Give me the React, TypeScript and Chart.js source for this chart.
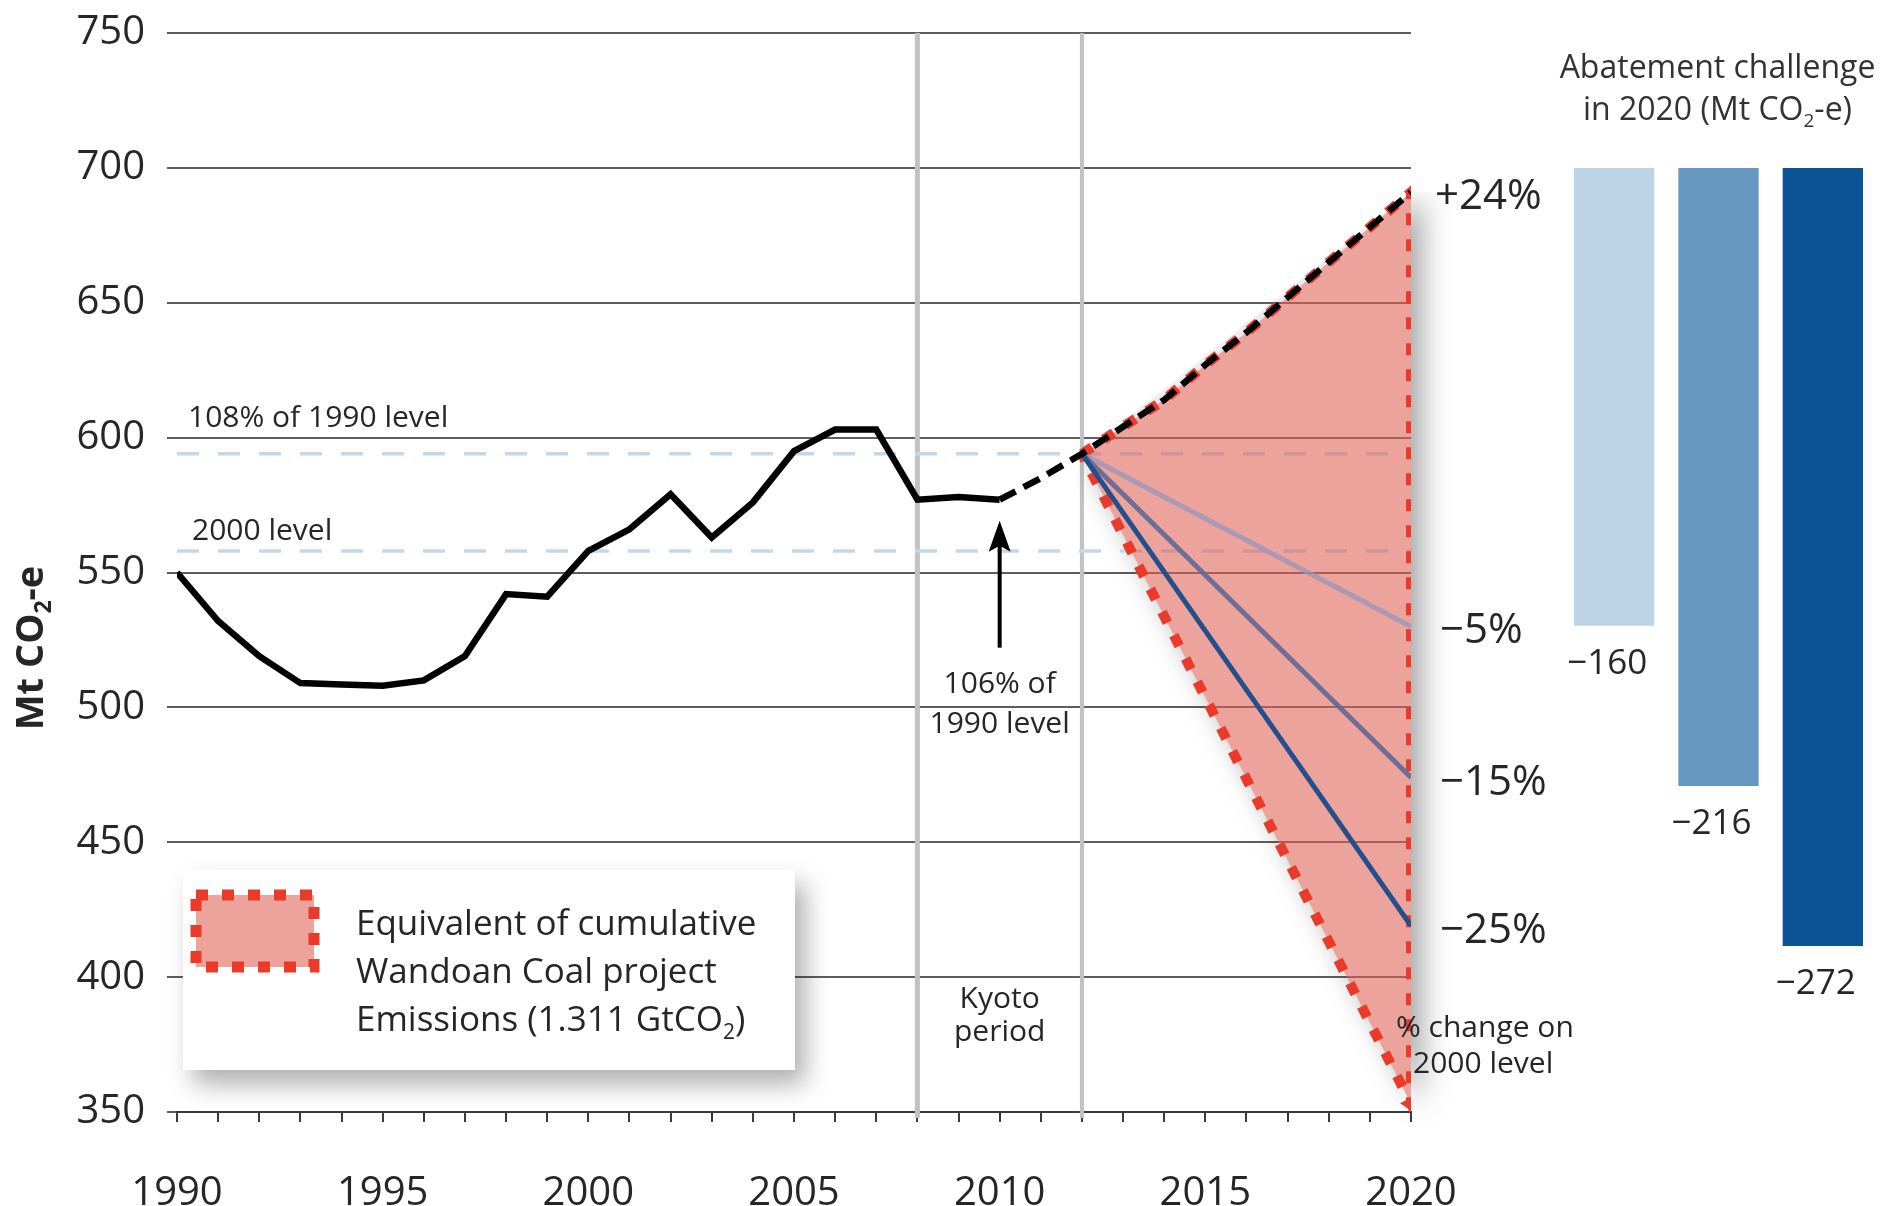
import React, { useEffect, useRef } from 'react';
import { Chart, registerables } from 'chart.js';

Chart.register(...registerables);

const FONT = '"Open Sans", "Noto Sans", "DejaVu Sans", sans-serif';
const TEXT = '#262626';

// ---------------- Data ----------------
const histYears = [1990, 1991, 1992, 1993, 1994, 1995, 1996, 1997, 1998, 1999, 2000, 2001, 2002, 2003, 2004, 2005, 2006, 2007, 2008, 2009, 2010];
const histValues = [550, 532, 519, 509, 508.5, 508, 510, 519, 542, 541, 558, 566, 579, 563, 576, 595, 603, 603, 577, 578, 577];
const projYears = [2011, 2012, 2013, 2014, 2015, 2016, 2017, 2018, 2019, 2020];
const projValues = [585, 594, 604, 614, 627, 639, 652, 665, 678, 691];
const lowerBoundYears = [2012, 2020];
const lowerBoundValues = [594, 353];
const targetYears = [2012, 2020];
const targetEndValues = [530, 474, 419];
const targetLabels = ['\u22125%', '\u221215%', '\u221225%'];
const bauLabel = '+24%';
const level108of1990 = 594;
const level2000 = 558;
const kyotoYears = [2008, 2012];
const xLabelYears = [1990, 1995, 2000, 2005, 2010, 2015, 2020];

const abatementCategories = ['\u22125%', '\u221215%', '\u221225%'];
const abatementValues = [-160, -216, -272];
const abatementColors = ['#bdd4e8', '#6698c2', '#0a5496'];

// --------------------------------------
type Part = { t: string; sub?: boolean };
function drawRich(ctx: CanvasRenderingContext2D, parts: Part[], x: number, y: number, size: number, weight = '400', align: 'left' | 'center' = 'left') {
  const fontFor = (p: Part) => `${weight} ${p.sub ? Math.round(size * 0.6) : size}px ${FONT}`;
  let total = 0;
  const widths = parts.map((p) => {
    ctx.font = fontFor(p);
    const w = ctx.measureText(p.t).width;
    total += w;
    return w;
  });
  let cx = align === 'center' ? x - total / 2 : x;
  ctx.textAlign = 'left';
  ctx.textBaseline = 'alphabetic';
  parts.forEach((p, i) => {
    ctx.font = fontFor(p);
    ctx.fillText(p.t, cx, p.sub ? y + size * 0.22 : y);
    cx += widths[i];
  });
}

const histPoints = histYears.map((x, i) => ({ x, y: histValues[i] }));
const projPoints = projYears.map((x, i) => ({ x, y: projValues[i] }));
const emissionsData = [...histPoints, ...projPoints];
const polyData = [
  ...projPoints.filter((p) => p.x >= lowerBoundYears[0]),
  ...lowerBoundYears.map((x, i) => ({ x, y: lowerBoundValues[i] })).reverse(),
];
const tipIndex = polyData.length - 2;
const startValue = projValues[projYears.indexOf(targetYears[0])];
const targetColors = ['rgba(150,148,188,0.75)', 'rgba(98,106,150,0.92)', '#23508c'];
const POLY_INDEX = 4;

export default function App() {
  const mainRef = useRef<HTMLCanvasElement>(null);
  const barRef = useRef<HTMLCanvasElement>(null);

  useEffect(() => {
    const decor = {
      id: 'decor',
      beforeDatasetsDraw(chart: any) {
        const { ctx, chartArea, scales } = chart;
        const x = scales.x;
        const y = scales.y;
        ctx.save();
        ctx.strokeStyle = '#c2c2c2';
        kyotoYears.forEach((yr, i) => {
          const px = x.getPixelForValue(yr);
          ctx.lineWidth = i === 0 ? 5 : 4;
          ctx.beginPath();
          ctx.moveTo(px, chartArea.top);
          ctx.lineTo(px, chartArea.bottom + 6);
          ctx.stroke();
        });
        ctx.restore();

        // shadow of the polygon
        const meta = chart.getDatasetMeta(POLY_INDEX);
        const pts = meta.data.map((p: any) => ({ x: p.x, y: p.y }));
        if (pts.length) {
          ctx.save();
          ctx.beginPath();
          ctx.rect(0, 0, chart.width, chart.height);
          pts.forEach((p: any, i: number) => (i ? ctx.lineTo(p.x, p.y) : ctx.moveTo(p.x, p.y)));
          ctx.closePath();
          ctx.clip('evenodd');
          const x0 = x.getPixelForValue(lowerBoundYears[0]);
          const x1 = x.getPixelForValue(lowerBoundYears[1]);
          const yTop = y.getPixelForValue(projValues[projValues.length - 1]);
          ctx.beginPath();
          ctx.moveTo(x0, y.getPixelForValue(startValue));
          ctx.lineTo(x1, yTop);
          ctx.lineTo(x1 + 300, yTop);
          ctx.lineTo(x1 + 300, chart.height);
          ctx.lineTo(x0 - 200, chart.height);
          ctx.closePath();
          ctx.clip();
          const OFF = 6000;
          ctx.shadowColor = 'rgba(0,0,0,0.38)';
          ctx.shadowBlur = 30;
          ctx.shadowOffsetX = OFF + 10;
          ctx.shadowOffsetY = 3;
          ctx.fillStyle = '#000';
          ctx.beginPath();
          pts.forEach((p: any, i: number) => (i ? ctx.lineTo(p.x - OFF, p.y) : ctx.moveTo(p.x - OFF, p.y)));
          ctx.closePath();
          ctx.fill();
          ctx.restore();
        }
      },
      afterDraw(chart: any) {
        const { ctx, scales } = chart;
        const x = scales.x;
        const y = scales.y;
        ctx.save();
        ctx.fillStyle = TEXT;

        // reference level labels
        drawRich(ctx, [{ t: '108% of 1990 level' }], x.getPixelForValue(1990) + 11, y.getPixelForValue(level108of1990) - 27, 30);
        drawRich(ctx, [{ t: '2000 level' }], x.getPixelForValue(1990) + 15, y.getPixelForValue(level2000) - 11, 30);

        // arrow to 2010 value
        const ax = x.getPixelForValue(histYears[histYears.length - 1]);
        const ay = y.getPixelForValue(histValues[histValues.length - 1]);
        ctx.strokeStyle = '#000';
        ctx.lineWidth = 4;
        ctx.beginPath();
        ctx.moveTo(ax, ay + 148);
        ctx.lineTo(ax, ay + 45);
        ctx.stroke();
        ctx.fillStyle = '#000';
        ctx.beginPath();
        ctx.moveTo(ax, ay + 21);
        ctx.lineTo(ax - 11, ay + 52);
        ctx.lineTo(ax, ay + 46);
        ctx.lineTo(ax + 11, ay + 52);
        ctx.closePath();
        ctx.fill();
        ctx.fillStyle = TEXT;
        drawRich(ctx, [{ t: '106% of' }], ax, 693, 30, '400', 'center');
        drawRich(ctx, [{ t: '1990 level' }], ax, 733, 30, '400', 'center');

        // Kyoto period
        const kx = (x.getPixelForValue(kyotoYears[0]) + x.getPixelForValue(kyotoYears[1])) / 2;
        drawRich(ctx, [{ t: 'Kyoto' }], kx, 1008, 30, '400', 'center');
        drawRich(ctx, [{ t: 'period' }], kx, 1041, 30, '400', 'center');

        // right-hand % labels
        const rx = x.getPixelForValue(2020);
        drawRich(ctx, [{ t: bauLabel }], rx + 24, y.getPixelForValue(projValues[projValues.length - 1]) + 17, 42);
        targetEndValues.forEach((v, i) => {
          drawRich(ctx, [{ t: targetLabels[i] }], rx + 29, y.getPixelForValue(v) + 17, 42);
        });
        drawRich(ctx, [{ t: '% change on' }], rx - 15, 1037, 30);
        drawRich(ctx, [{ t: '2000 level' }], rx + 2, 1073, 30);

        // y axis title
        ctx.save();
        ctx.translate(43, 648);
        ctx.rotate(-Math.PI / 2);
        drawRich(ctx, [{ t: 'Mt CO' }, { t: '2', sub: true }, { t: '-e' }], 0, 0, 38, '700', 'center');
        ctx.restore();

        // legend box
        ctx.save();
        ctx.shadowColor = 'rgba(0,0,0,0.32)';
        ctx.shadowBlur = 24;
        ctx.shadowOffsetX = 10;
        ctx.shadowOffsetY = 14;
        ctx.fillStyle = '#ffffff';
        ctx.fillRect(183, 870, 612, 200);
        ctx.restore();
        ctx.fillStyle = 'rgba(222, 96, 84, 0.58)';
        ctx.fillRect(196, 895, 118, 72);
        ctx.save();
        ctx.strokeStyle = '#ea3b2a';
        ctx.lineWidth = 11;
        ctx.setLineDash([12, 14]);
        ctx.strokeRect(196, 895, 118, 72);
        ctx.restore();
        ctx.fillStyle = TEXT;
        drawRich(ctx, [{ t: 'Equivalent of cumulative' }], 356, 935, 35);
        drawRich(ctx, [{ t: 'Wandoan Coal project' }], 356, 983, 35);
        drawRich(ctx, [{ t: 'Emissions (1.311 GtCO' }, { t: '2', sub: true }, { t: ')' }], 356, 1031, 35);
        ctx.restore();
      },
    };

    const main = new Chart(mainRef.current as HTMLCanvasElement, {
      type: 'line',
      data: {
        datasets: [
          {
            label: 'Emissions',
            data: emissionsData,
            borderColor: '#000',
            borderWidth: 6.5,
            pointRadius: 0,
            borderCapStyle: 'butt',
            borderJoinStyle: 'miter',
            fill: false,
            order: 0,
            segment: {
              borderDash: (c: any) => (c.p0.parsed.x >= histYears[histYears.length - 1] ? [18, 9] : undefined),
            },
          } as any,
          ...targetEndValues.map((v, i) => ({
            label: targetLabels[i],
            data: [{ x: targetYears[0], y: startValue }, { x: targetYears[1], y: v }],
            borderColor: targetColors[i],
            borderWidth: 5,
            pointRadius: 0,
            fill: false,
            order: 3 - i,
          })),
          {
            label: 'Wandoan',
            data: polyData,
            borderColor: '#ea3b2a',
            backgroundColor: 'rgba(222, 96, 84, 0.58)',
            borderWidth: 10,
            borderDash: [12, 14],
            borderCapStyle: 'butt',
            fill: 'shape',
            pointStyle: 'triangle',
            rotation: 153,
            pointRadius: (c: any) => (c.dataIndex === tipIndex ? 11 : 0),
            pointBackgroundColor: '#ea3b2a',
            pointBorderWidth: 0,
            order: 6,
          } as any,
          {
            label: '108% of 1990',
            data: [{ x: 1990, y: level108of1990 }, { x: 2020, y: level108of1990 }],
            borderColor: '#c3d8ec',
            borderWidth: 3.5,
            borderDash: [22, 19],
            pointRadius: 0,
            fill: false,
            order: 7,
          },
          {
            label: '2000 level',
            data: [{ x: 1990, y: level2000 }, { x: 2020, y: level2000 }],
            borderColor: '#c3d8ec',
            borderWidth: 3.5,
            borderDash: [22, 19],
            pointRadius: 0,
            fill: false,
            order: 8,
          },
        ],
      },
      options: {
        animation: false,
        responsive: false,
        layout: { padding: { left: 0, top: 33, right: 474, bottom: 0 } },
        plugins: { legend: { display: false }, tooltip: { enabled: false } },
        elements: { line: { tension: 0 } },
        scales: {
          x: {
            type: 'linear',
            min: 1990,
            max: 2020,
            afterFit: (s: any) => {
              s.height = 94;
              s.paddingLeft = 0;
              s.paddingRight = 0;
            },
            ticks: {
              stepSize: 1,
              maxTicksLimit: 40,
              autoSkip: false,
              maxRotation: 0,
              padding: 48,
              color: TEXT,
              font: { family: FONT, size: 40 },
              callback: (v: any) => (xLabelYears.includes(Number(v)) ? String(v) : ''),
            },
            grid: { drawOnChartArea: false, drawTicks: true, tickLength: 10, color: '#3a3a3a', lineWidth: 2 },
            border: { display: true, color: '#3a3a3a', width: 2 },
          },
          y: {
            type: 'linear',
            min: 350,
            max: 750,
            afterFit: (s: any) => {
              s.width = 177;
              s.paddingTop = 0;
              s.paddingBottom = 0;
            },
            ticks: { stepSize: 50, padding: 22, color: TEXT, font: { family: FONT, size: 40 } },
            grid: { color: '#5e5e5e', lineWidth: 2, tickLength: 10, drawTicks: true },
            border: { display: false },
          },
        },
      } as any,
      plugins: [decor],
    });

    const barDecor = {
      id: 'barDecor',
      afterDraw(chart: any) {
        const { ctx, chartArea } = chart;
        const cx = (chartArea.left + chartArea.right) / 2 - 1;
        ctx.save();
        ctx.fillStyle = '#333';
        drawRich(ctx, [{ t: 'Abatement challenge' }], cx, 78, 32, '400', 'center');
        drawRich(ctx, [{ t: 'in 2020 (Mt CO' }, { t: '2', sub: true }, { t: '-e)' }], cx, 120, 32, '400', 'center');
        ctx.fillStyle = TEXT;
        const meta = chart.getDatasetMeta(0);
        meta.data.forEach((bar: any, i: number) => {
          drawRich(ctx, [{ t: '\u2212' + Math.abs(abatementValues[i]) }], bar.x - 7, bar.y + 48, 35, '400', 'center');
        });
        ctx.restore();
      },
    };

    const bars = new Chart(barRef.current as HTMLCanvasElement, {
      type: 'bar',
      data: {
        labels: abatementCategories,
        datasets: [
          {
            data: abatementValues,
            backgroundColor: abatementColors,
            borderWidth: 0,
            categoryPercentage: 1,
            barPercentage: 0.77,
          },
        ],
      },
      options: {
        animation: false,
        responsive: false,
        layout: { padding: { left: 22, right: 10, top: 168, bottom: 94 } },
        plugins: { legend: { display: false }, tooltip: { enabled: false } },
        scales: {
          x: { type: 'category', display: false },
          y: { type: 'linear', min: -330, max: 0, display: false },
        },
      } as any,
      plugins: [barDecor],
    });

    return () => {
      main.destroy();
      bars.destroy();
    };
  }, []);

  return (
    <div style={{ position: 'absolute', left: 0, top: 0, width: 1885, height: 1206, background: '#ffffff' }}>
      <canvas ref={mainRef} width={1885} height={1206} style={{ position: 'absolute', left: 0, top: 0 }} />
      <canvas ref={barRef} width={345} height={1206} style={{ position: 'absolute', left: 1540, top: 0 }} />
    </div>
  );
}
